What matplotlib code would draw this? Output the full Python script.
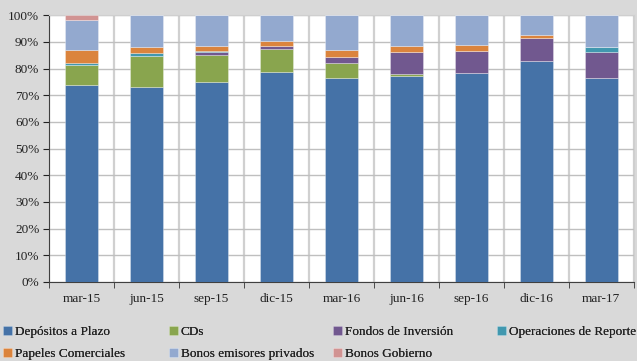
import matplotlib
matplotlib.use("Agg")
import matplotlib.pyplot as plt
import numpy as np
from matplotlib.ticker import FixedLocator, PercentFormatter

categories = ["mar-15", "jun-15", "sep-15", "dic-15", "mar-16", "jun-16", "sep-16", "dic-16", "mar-17"]
depositos = [74.0, 73.0, 75.0, 78.8, 76.5, 77.3, 78.5, 82.7, 76.5]
cds = [7.3, 11.8, 10.1, 8.5, 5.4, 0.7, 0.0, 0.0, 0.0]
fondos = [0.0, 0.0, 1.1, 1.3, 2.5, 8.3, 8.1, 8.8, 9.8]
reporte = [0.8, 1.0, 0.5, 0.0, 0.0, 0.0, 0.0, 0.0, 1.8]
papeles = [4.9, 2.1, 1.7, 1.7, 2.6, 2.3, 2.3, 1.1, 0.0]
bonos_priv = [11.3, 12.1, 11.6, 9.7, 13.0, 11.4, 11.1, 7.4, 11.9]
bonos_gob = [1.7, 0.0, 0.0, 0.0, 0.0, 0.0, 0.0, 0.0, 0.0]

series = [
    ("Depósitos a Plazo", depositos, "#4572a7"),
    ("CDs", cds, "#89a54e"),
    ("Fondos de Inversión", fondos, "#71588f"),
    ("Operaciones de Reporte", reporte, "#4198af"),
    ("Papeles Comerciales", papeles, "#db843d"),
    ("Bonos emisores privados", bonos_priv, "#93a9cf"),
    ("Bonos Gobierno", bonos_gob, "#d19392"),
]

plt.rcParams['font.family'] = ['Liberation Serif', 'DejaVu Serif']
bg = "#d9d9d9"
fig = plt.figure(figsize=(6.37, 3.61), dpi=100, facecolor=bg)
ax = fig.add_axes([0.077, 0.219, 0.918, 0.739])
ax.set_facecolor("white")

x = np.arange(len(categories))
bottom = np.zeros(len(categories))
handles = []
for name, vals, col in series:
    v = np.array(vals, dtype=float)
    b = ax.bar(x, v, width=0.5, bottom=bottom, color=col, label=name,
               edgecolor=(1, 1, 1, 0.35), linewidth=0.6, zorder=3)
    bottom += v
    handles.append(b)

ax.set_xlim(-0.5, len(categories) - 0.5)
ax.set_ylim(0, 100)
ax.set_yticks(np.arange(0, 101, 10))
ax.yaxis.set_major_formatter(PercentFormatter(decimals=0))
ax.set_xticks(x)
ax.set_xticklabels(categories)
ax.xaxis.set_minor_locator(FixedLocator(np.arange(-0.5, len(categories), 1.0)))
ax.tick_params(axis="x", which="major", length=0, labelsize=9.5, pad=8, colors="#222222")
ax.tick_params(axis="x", which="minor", length=4, direction="out", color="#333333")
ax.tick_params(axis="y", length=4, direction="out", labelsize=9.5, colors="#222222", pad=3)
ax.grid(axis="y", color="#bfbfbf", linewidth=1.0, zorder=0)
ax.grid(axis="x", which="minor", color="#d0d0d0", linewidth=1.6, zorder=0)
ax.set_axisbelow(True)
for s in ["top", "right"]:
    ax.spines[s].set_color("#cfcfcf")
ax.spines["left"].set_color("#404040")
ax.spines["bottom"].set_color("#404040")

W, H = 637.0, 361.0
columns = [[0, 4], [1, 5], [2, 6], [3]]
col_x = [0.0, 166.0, 330.0, 494.0]
for cx, idxs in zip(col_x, columns):
    lg = fig.legend([handles[i] for i in idxs], [series[i][0] for i in idxs],
                    loc="upper left", bbox_to_anchor=(cx / W, 1 - 323 / H),
                    ncol=1, frameon=False,
                    prop={"family": ["Liberation Serif"], "size": 9.5},
                    handlelength=0.7, handleheight=0.7, handletextpad=0.2,
                    labelspacing=0.75, borderpad=0.2, borderaxespad=0.0)
    for t in lg.get_texts():
        t.set_color("#222222")
    fig.add_artist(lg)
fig.savefig("out.png", dpi=100, facecolor=bg)
